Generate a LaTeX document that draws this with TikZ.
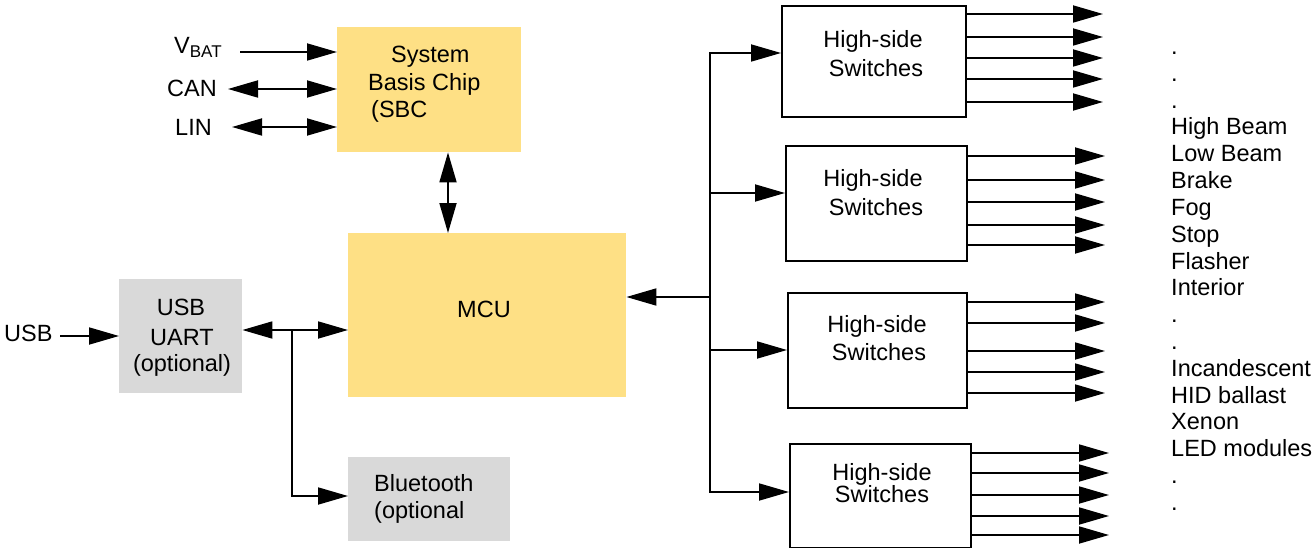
\documentclass[tikz,border=0pt]{standalone}
\usepackage{fontspec}
\setmainfont{Liberation Sans}
\usetikzlibrary{arrows.meta}
\definecolor{sbcyellow}{RGB}{254,224,133}
\definecolor{boxgray}{RGB}{217,217,217}
\begin{document}
\begin{tikzpicture}[x=1pt,y=-1pt,
 every node/.style={font=\fontsize{23.5}{27}\selectfont, inner sep=0pt},
 ybox/.style={fill=sbcyellow, anchor=north west},
 gbox/.style={fill=boxgray, anchor=north west},
 hsbox/.style={draw, fill=white, line width=1.8pt, anchor=north west},
 conn/.style={line width=1.8pt},
 arr/.style={conn, -{Triangle[length=30pt,width=17pt]}},
 darr/.style={conn, {Triangle[length=30pt,width=17pt]}-{Triangle[length=30pt,width=17pt]}},
 lbl/.style={anchor=base west},
 ctr/.style={anchor=base}]
\useasboundingbox (0,0) rectangle (1316,548);

% boxes
\node[ybox, minimum width=184pt, minimum height=125pt] (sbc) at (337,27) {};
\node[ybox, minimum width=278pt, minimum height=164pt] (mcu) at (348,233) {};
\node[gbox, minimum width=123pt, minimum height=114pt] (uart) at (119,279) {};
\node[gbox, minimum width=162pt, minimum height=84pt] (bt) at (348,457) {};
\node[hsbox, minimum width=184pt, minimum height=111pt] (hs1) at (781,5) {};
\node[hsbox, minimum width=181pt, minimum height=115pt] (hs2) at (785,145) {};
\node[hsbox, minimum width=179pt, minimum height=115pt] (hs3) at (787,292) {};
\node[hsbox, minimum width=181pt, minimum height=104pt] (hs4) at (789,443) {};

% box texts
\node[lbl] (sbct1) at (391,63) {System};
\node[lbl] (sbct2) at (368,91) {Basis Chip};
\node[lbl] (sbct3) at (371,118) {(SBC};
\node[ctr] (mcut) at (484,317) {MCU};
\node[ctr] (uartt1) at (181,315) {USB};
\node[ctr] (uartt2) at (182,345) {UART};
\node[ctr] (uartt3) at (182,371) {(optional)};
\node[lbl] (btt1) at (374,491) {Bluetooth};
\node[lbl] (btt2) at (374,518) {(optional};
\node[ctr] (h1a) at (873,48) {High-side};
\node[ctr] (h1b) at (876,77) {Switches};
\node[ctr] (h2a) at (873,186) {High-side};
\node[ctr] (h2b) at (876,215) {Switches};
\node[ctr] (h3a) at (877,332) {High-side};
\node[ctr] (h3b) at (879,360) {Switches};
\node[ctr] (h4a) at (882,480) {High-side};
\node[ctr] (h4b) at (882,502) {Switches};

% left labels
\node[lbl] (vbat) at (174,54) {V\raisebox{-4pt}{\fontsize{17}{17}\selectfont BAT}};
\node[lbl] (can) at (167,97) {CAN};
\node[lbl] (lin) at (175,136) {LIN};
\node[lbl] (usb) at (4,341) {USB};

% right list
\foreach \t [count=\i] in {.,.,.,High Beam,Low Beam,Brake,Fog,Stop,Flasher,Interior,.,.,Incandescent,HID ballast,Xenon,LED modules,.,.}
  \node[lbl] (r\i) at (1171,{54.6+(\i-1)*26.8}) {\t};

% SBC connectors
\coordinate (vbS) at (240,52);
\coordinate (canS) at (228,89);
\coordinate (linS) at (232,127);
\draw[arr] (vbS) -- (vbS -| sbc.west);
\draw[darr] (canS) -- (canS -| sbc.west);
\draw[darr] (linS) -- (linS -| sbc.west);
\coordinate (smx) at (448,0);
\draw[darr] (smx |- sbc.south) -- (smx |- mcu.north);

% USB / UART / Bluetooth
\coordinate (usbS) at (60,336);
\draw[arr] (usbS) -- (usbS -| uart.west);
\coordinate (jn) at (292,330);
\coordinate (jb) at (292,496);
\draw[darr] (jn -| uart.east) -- (jn -| mcu.west);
\draw[arr] (jn) -- (jb) -- (jb -| bt.west);

% bus to switches
\coordinate (b1) at (710,53);
\coordinate (b2) at (710,193);
\coordinate (bm) at (710,297);
\coordinate (b3) at (710,350);
\coordinate (b4) at (710,492);
\draw[arr] (bm) -- (b1) -- (b1 -| hs1.west);
\draw[arr] (bm) -- (b4) -- (b4 -| hs4.west);
\draw[arr] (b2) -- (b2 -| hs2.west);
\draw[arr] (b3) -- (b3 -| hs3.west);
\draw[arr] (bm) -- (bm -| mcu.east);

% outputs
\foreach \y in {14,37,58,79,102} \draw[arr] (hs1.east |- 0,\y) -- (1103,\y);
\foreach \y in {156,180,202,225,245} \draw[arr] (hs2.east |- 0,\y) -- (1105,\y);
\foreach \y in {302,323,351,372,393} \draw[arr] (hs3.east |- 0,\y) -- (1105,\y);
\foreach \y in {453,473,495,516,535} \draw[arr] (hs4.east |- 0,\y) -- (1109,\y);
\end{tikzpicture}
\end{document}
